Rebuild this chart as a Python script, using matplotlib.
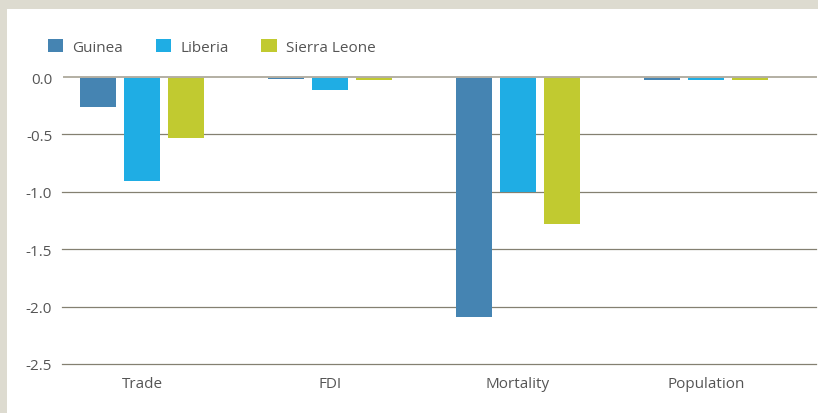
import numpy as np
import matplotlib.pyplot as plt
from matplotlib.patches import Rectangle

categories = ['Trade', 'FDI', 'Mortality', 'Population']
guinea = [-0.26, -0.018, -2.09, -0.022]
liberia = [-0.91, -0.11, -1.005, -0.03]
sierra_leone = [-0.53, -0.025, -1.28, -0.025]
yticks = [0.0, -0.5, -1.0, -1.5, -2.0, -2.5]

series = [('Guinea', guinea, '#4584b2'),
          ('Liberia', liberia, '#1fade4'),
          ('Sierra Leone', sierra_leone, '#c1ca30')]

plt.rcParams['font.family'] = ['Open Sans', 'DejaVu Sans']
text_col = '#555555'

fig = plt.figure(figsize=(8.18, 4.14), dpi=100)
fig.patch.set_facecolor('#dddbd0')
# white panel inside the beige frame
fig.patches.append(Rectangle((7 / 818, 0), 1, 1 - 10 / 414, transform=fig.transFigure,
                             facecolor='white', edgecolor='none', zorder=-5))

ax = fig.add_axes([64 / 818, (414 - 365) / 414, (816 - 64) / 818, (365 - 78) / 414])
ax.set_facecolor('none')
ax.set_zorder(2)

x = np.arange(len(categories))
width = 0.19
step = 0.234
for i, (name, vals, col) in enumerate(series):
    ax.bar(x + (i - 1) * step, vals, width, color=col, label=name, zorder=3)

ax.set_xlim(-0.415, 3.585)
ax.set_ylim(-2.5, 0)
for t in yticks:
    if t == 0:
        ax.axhline(t, color='#b3afa3', lw=1.4, zorder=4, clip_on=False)
    else:
        ax.axhline(t, xmin=-2 / 752, color='#848071', lw=0.9, zorder=1, clip_on=False)

ax.set_yticks(yticks)
ax.set_yticklabels(['%.1f' % t for t in yticks])
ax.set_xticks(x)
ax.set_xticklabels(categories)
ax.tick_params(length=0, labelsize=11, colors=text_col)
ax.tick_params(axis='y', pad=8.5)
ax.tick_params(axis='x', pad=9)
for s in ax.spines.values():
    s.set_visible(False)

leg = fig.legend(loc='upper left', bbox_to_anchor=(34 / 818, 1 - 26 / 414), ncol=3,
                 frameon=False, fontsize=11, handlelength=1.0, handleheight=1.0,
                 handletextpad=0.6, columnspacing=2.15)
for t in leg.get_texts():
    t.set_color(text_col)

fig.savefig('out.png', dpi=100, facecolor=fig.get_facecolor())
